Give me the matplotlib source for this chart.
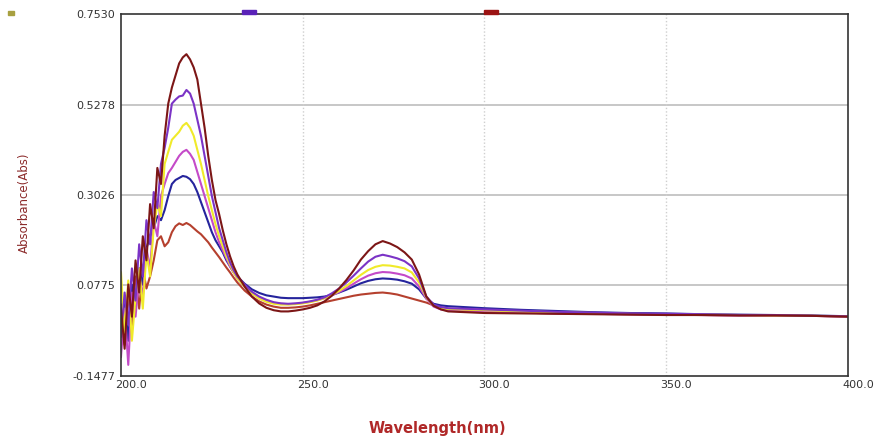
import matplotlib
matplotlib.use("Agg")
import matplotlib.pyplot as plt
import matplotlib.transforms as mtransforms
from matplotlib.patches import Rectangle

# wavelength grid (nm): 1 nm up to 232, 2 nm up to 290, 10 nm after
wl = list(range(200, 233)) + list(range(234, 291, 2)) + list(range(300, 401, 10))

maroon = [0.02, -0.08, 0.08, 0.0, 0.14, 0.06, 0.20, 0.14, 0.28, 0.22, 0.37, 0.33, 0.45, 0.53, 0.57, 0.60, 0.63, 0.645, 0.653, 0.64,
          0.62, 0.59, 0.53, 0.47, 0.40, 0.34, 0.29, 0.255, 0.215, 0.18, 0.15, 0.125, 0.105,
          0.075, 0.05, 0.033, 0.022, 0.016, 0.013, 0.013, 0.015, 0.018, 0.022, 0.028, 0.038, 0.052, 0.07, 0.091,
          0.115, 0.142, 0.163, 0.18, 0.188, 0.182, 0.173, 0.16, 0.142, 0.105, 0.05, 0.027, 0.018, 0.013,
          0.009, 0.008, 0.007, 0.006, 0.005, 0.004, 0.004, 0.003, 0.003, 0.002, 0.0]
purple = [-0.05, 0.06, -0.02, 0.12, 0.04, 0.18, 0.10, 0.24, 0.18, 0.31, 0.27, 0.38, 0.42, 0.47, 0.53, 0.54, 0.548, 0.55, 0.564, 0.555,
          0.53, 0.49, 0.45, 0.40, 0.35, 0.30, 0.26, 0.22, 0.19, 0.16, 0.135, 0.115, 0.10,
          0.08, 0.062, 0.05, 0.042, 0.036, 0.033, 0.032, 0.033, 0.035, 0.038, 0.042, 0.048, 0.058, 0.07, 0.085,
          0.102, 0.12, 0.137, 0.149, 0.154, 0.15, 0.145, 0.138, 0.125, 0.095, 0.05, 0.03, 0.024, 0.021,
          0.018, 0.015, 0.012, 0.010, 0.008, 0.007, 0.006, 0.004, 0.004, 0.002, 0.001]
yellow = [0.11, -0.04, 0.09, -0.06, 0.05, 0.12, 0.02, 0.16, 0.10, 0.22, 0.28, 0.25, 0.38, 0.41, 0.44, 0.45, 0.46, 0.475, 0.482, 0.47,
          0.45, 0.415, 0.38, 0.34, 0.30, 0.265, 0.23, 0.20, 0.175, 0.15, 0.13, 0.11, 0.095,
          0.075, 0.058, 0.045, 0.037, 0.032, 0.03, 0.03, 0.031, 0.033, 0.036, 0.04, 0.046, 0.054, 0.064, 0.076,
          0.09, 0.104, 0.116, 0.124, 0.128, 0.127, 0.124, 0.12, 0.11, 0.085, 0.048, 0.028, 0.022, 0.019,
          0.016, 0.013, 0.011, 0.009, 0.007, 0.006, 0.005, 0.004, 0.003, 0.002, 0.001]
orchid = [-0.10, 0.02, -0.12, 0.06, 0.0, 0.10, 0.05, 0.17, 0.12, 0.24, 0.20, 0.30, 0.33, 0.357, 0.37, 0.385, 0.40, 0.41, 0.415, 0.405,
          0.39, 0.36, 0.33, 0.30, 0.27, 0.24, 0.21, 0.185, 0.165, 0.145, 0.125, 0.11, 0.095,
          0.075, 0.058, 0.046, 0.038, 0.034, 0.032, 0.031, 0.032, 0.034, 0.037, 0.041, 0.046, 0.053, 0.061, 0.071,
          0.082, 0.093, 0.102, 0.108, 0.111, 0.11, 0.107, 0.103, 0.095, 0.075, 0.045, 0.025, 0.018, 0.015,
          0.012, 0.01, 0.008, 0.007, 0.006, 0.005, 0.004, 0.003, 0.003, 0.002, 0.0]
navy = [-0.02, 0.04, -0.06, 0.08, 0.02, 0.12, 0.08, 0.17, 0.20, 0.22, 0.25, 0.24, 0.265, 0.30, 0.33, 0.34, 0.345, 0.35, 0.348, 0.342,
        0.33, 0.31, 0.285, 0.26, 0.235, 0.21, 0.19, 0.175, 0.16, 0.14, 0.125, 0.11, 0.10,
        0.082, 0.068, 0.059, 0.053, 0.05, 0.047, 0.046, 0.046, 0.046, 0.047, 0.048, 0.05, 0.054, 0.06, 0.067,
        0.075, 0.083, 0.089, 0.093, 0.095, 0.094, 0.092, 0.088, 0.082, 0.068, 0.045, 0.032, 0.028, 0.026,
        0.021, 0.017, 0.014, 0.011, 0.009, 0.008, 0.006, 0.005, 0.004, 0.003, 0.001]
brick = [0.03, -0.07, 0.06, -0.03, 0.10, 0.02, 0.12, 0.07, 0.10, 0.14, 0.19, 0.20, 0.175, 0.185, 0.21, 0.225, 0.232, 0.228, 0.233, 0.228,
         0.22, 0.212, 0.205, 0.195, 0.185, 0.172, 0.16, 0.148, 0.135, 0.122, 0.11, 0.097, 0.085,
         0.065, 0.05, 0.038, 0.03, 0.025, 0.022, 0.022, 0.023, 0.025, 0.028, 0.032, 0.036, 0.04, 0.044, 0.048,
         0.052, 0.055, 0.057, 0.059, 0.06, 0.058, 0.055, 0.05, 0.045, 0.04, 0.035, 0.028, 0.022, 0.018,
         0.012, 0.01, 0.008, 0.007, 0.006, 0.005, 0.004, 0.003, 0.003, 0.002, 0.0]

series = [brick, navy, orchid, yellow, purple, maroon]
colors = ["#b5402e", "#25249c", "#c44ac8", "#f0ea2a", "#7b33c6", "#7c1616"]

x_ticks = [200.0, 250.0, 300.0, 350.0, 400.0]
y_ticks = [-0.1477, 0.0775, 0.3026, 0.5278, 0.7530]

fig = plt.figure(figsize=(8.8, 4.36), dpi=100)
ax = fig.add_axes([0.1375, 0.1376, 0.8261, 0.8303])

for ys, c in zip(series, colors):
    ax.plot(wl, ys, color=c, lw=1.5)

ax.set_xlim(200, 400)
ax.set_ylim(y_ticks[0], y_ticks[-1])
ax.set_xticks(x_ticks)
ax.set_xticklabels(["%.1f" % t for t in x_ticks])
ax.set_yticks(y_ticks)
ax.set_yticklabels(["%.4f" % t for t in y_ticks])
ax.tick_params(length=0, labelsize=8, colors="#333333")
ax.tick_params(axis="x", pad=3)
ax.tick_params(axis="y", pad=4)

# x tick labels sit a little to the right of their ticks in the original
shift = mtransforms.ScaledTranslation(10 / 100, 0, fig.dpi_scale_trans)
for lab in ax.get_xticklabels():
    lab.set_transform(lab.get_transform() + shift)

for t in y_ticks[1:-1]:
    ax.axhline(t, color="#bdbdbd", lw=1.2, zorder=0)
for t in x_ticks[1:-1]:
    ax.axvline(t, color="#cfcfcf", lw=1.0, ls=(0, (1, 1.5)), zorder=0)

for s in ax.spines.values():
    s.set_color("#333333")
    s.set_linewidth(1.2)

ax.set_ylabel("Absorbance(Abs)", color="#8b2a2a", fontsize=8.5)
ax.yaxis.set_label_coords(-0.124, 0.478)
fig.text(437 / 880, 1 - 428 / 436, "Wavelength(nm)", color="#b02828", fontsize=10.5,
         fontweight="bold", ha="center", va="center")

# clipped legend markers above the plot
fig.patches.append(Rectangle((242 / 880, 1 - 14 / 436), 14 / 880, 4 / 436, transform=fig.transFigure,
                             color="#5a22b8", figure=fig))
fig.patches.append(Rectangle((484 / 880, 1 - 14 / 436), 14 / 880, 4 / 436, transform=fig.transFigure,
                             color="#9c1414", figure=fig))
fig.patches.append(Rectangle((8 / 880, 1 - 15 / 436), 6 / 880, 4 / 436, transform=fig.transFigure,
                             color="#a8a040", figure=fig))

fig.savefig("out.png", dpi=100)
